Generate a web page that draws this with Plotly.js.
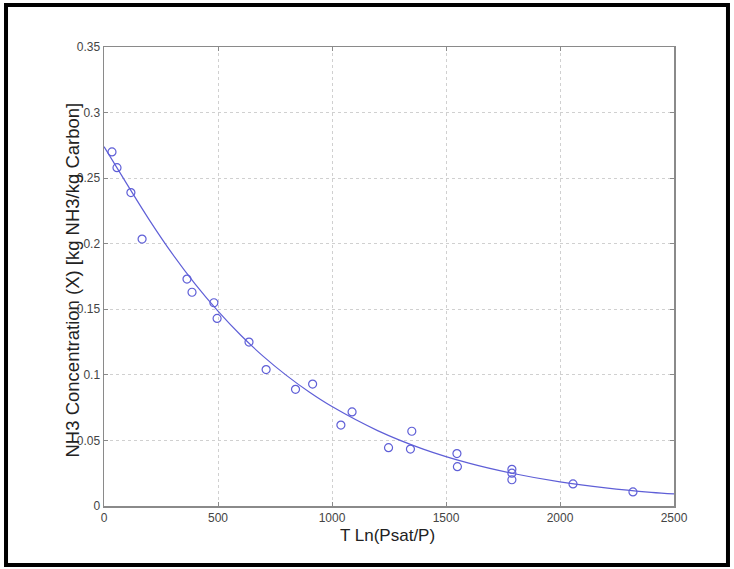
<!DOCTYPE html>
<html>
<head>
<meta charset="utf-8">
<script src="https://cdn.plot.ly/plotly-3.0.1.min.js"></script>
<style>html,body{margin:0;padding:0;background:#fff;}#chart{width:734px;height:569px;}</style>
</head>
<body>
<div id="chart"></div>
<script>
// Measured data points
const dataX = [35, 57, 118, 167, 364, 386, 482, 496, 636, 711, 840, 915, 1039, 1088, 1248, 1344, 1350, 1548, 1550, 1789, 1789, 1789, 2057, 2320];
const dataY = [0.270, 0.258, 0.239, 0.2035, 0.173, 0.163, 0.155, 0.143, 0.125, 0.104, 0.089, 0.093, 0.0617, 0.0717, 0.0445, 0.0434, 0.0570, 0.040, 0.030, 0.028, 0.025, 0.020, 0.0168, 0.0107];
// Fitted curve
const fitX = [0, 100, 200, 300, 400, 500, 600, 700, 800, 900, 1000, 1200, 1400, 1600, 1800, 2000, 2200, 2400, 2500];
const fitY = [0.274, 0.2456, 0.2178, 0.1922, 0.1692, 0.1486, 0.1302, 0.1139, 0.0996, 0.0869, 0.0758, 0.0575, 0.0434, 0.0327, 0.0246, 0.0184, 0.0138, 0.0104, 0.0092];
const xTicks = [0, 500, 1000, 1500, 2000, 2500];
const yTicks = [0, 0.05, 0.1, 0.15, 0.2, 0.25, 0.3, 0.35];
const xTitle = 'T Ln(Psat/P)';
const yTitle = 'NH3 Concentration (X) [kg NH3/kg Carbon]';

const FONT = 'Liberation Sans, Arial, sans-serif';
const blue = 'rgb(95,95,215)';
const traces = [
  {x: fitX, y: fitY, mode: 'lines', line: {color: blue, width: 1.2, shape: 'spline'}, hoverinfo: 'skip'},
  {x: dataX, y: dataY, mode: 'markers', marker: {symbol: 'circle-open', size: 8, color: blue, line: {width: 1.2, color: blue}}}
];
const axisCommon = {
  showgrid: true, gridcolor: '#d0d0d0', griddash: 'dot', gridwidth: 1,
  zeroline: false, showline: true, linecolor: '#8a8a8a', linewidth: 1.5, mirror: 'ticks',
  ticks: 'inside', ticklen: 4, tickcolor: '#8a8a8a',
  tickfont: {family: FONT, size: 12, color: '#444'}
};
const layout = {
  width: 734, height: 569,
  margin: {l: 104, r: 60, t: 47, b: 63},
  paper_bgcolor: '#fff', plot_bgcolor: '#fff',
  showlegend: false,
  xaxis: Object.assign({}, axisCommon, {
    range: [0, 2500], tickvals: xTicks, ticktext: xTicks.map(String)
  }),
  yaxis: Object.assign({}, axisCommon, {
    range: [0, 0.35], tickvals: yTicks, ticktext: yTicks.map(String)
  }),
  annotations: [
    {text: xTitle, xref: 'paper', yref: 'paper', x: 0.5, y: 0, xshift: -2, yshift: -29,
     xanchor: 'center', yanchor: 'middle', showarrow: false, font: {family: FONT, size: 17, color: '#222'}},
    {text: yTitle, xref: 'paper', yref: 'paper', x: 0, y: 0.5, xshift: -32, yshift: -4, textangle: -90,
     xanchor: 'center', yanchor: 'middle', showarrow: false, font: {family: FONT, size: 18.5, color: '#222'}}
  ],
  shapes: [
    {type: 'rect', xref: 'paper', yref: 'paper', x0: -0.1719, x1: 1.0947, y0: -0.1285, y1: 1.0915,
     line: {color: '#000', width: 4}, fillcolor: 'rgba(0,0,0,0)', layer: 'above'}
  ]
};
Plotly.newPlot('chart', traces, layout, {displayModeBar: false, staticPlot: true});
</script>
</body>
</html>
